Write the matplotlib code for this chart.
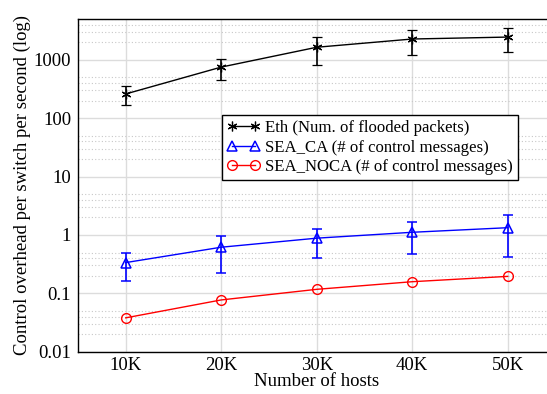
import numpy as np
import matplotlib.pyplot as plt
from matplotlib.lines import Line2D
from matplotlib.ticker import FixedLocator, NullFormatter

plt.rcParams['font.family'] = ['Liberation Serif', 'DejaVu Serif']

# Number of hosts (thousands)
hosts = [10, 20, 30, 40, 50]
host_labels = ['10K', '20K', '30K', '40K', '50K']

# Eth: number of flooded packets, with min/max
eth = [260, 750, 1640, 2270, 2450]
eth_lo = [168, 458, 830, 1230, 1380]
eth_hi = [352, 1025, 2480, 3270, 3520]

# SEA_CA: number of control messages, with min/max
sea_ca = [0.336, 0.616, 0.88, 1.11, 1.33]
sea_ca_lo = [0.16, 0.22, 0.40, 0.47, 0.425]
sea_ca_hi = [0.50, 0.97, 1.27, 1.65, 2.2]

# SEA_NOCA: number of control messages
sea_noca = [0.038, 0.077, 0.117, 0.158, 0.195]

y_ticks = [0.01, 0.1, 1, 10, 100, 1000]
y_tick_labels = ['0.01', '0.1', '1', '10', '100', '1000']

fig = plt.figure(figsize=(5.47, 3.94), dpi=100)
ax = fig.add_axes([0.1426, 0.1074, 0.8728, 0.8444])

def yerr(vals, lo, hi):
    v = np.array(vals)
    return [v - np.array(lo), np.array(hi) - v]

eth_style = dict(color='black', marker=(6, 2, 0), markersize=7,
                 markeredgewidth=0.9, linewidth=1.0)
ca_style = dict(color='blue', marker='^', markersize=7, markerfacecolor='none',
                markeredgewidth=1.1, linewidth=1.0)
noca_style = dict(color='red', marker='o', markersize=7, markerfacecolor='none',
                  markeredgewidth=1.0, linewidth=1.0)

ax.errorbar(hosts, eth, yerr=yerr(eth, eth_lo, eth_hi), elinewidth=1.2,
            capsize=3.5, capthick=1.2, zorder=3, **eth_style)
ax.errorbar(hosts, sea_ca, yerr=yerr(sea_ca, sea_ca_lo, sea_ca_hi), elinewidth=1.2,
            capsize=3.5, capthick=1.2, zorder=3, **ca_style)
ax.plot(hosts, sea_noca, zorder=3, **noca_style)

ax.set_yscale('log')
ax.set_ylim(0.01, 5000)
ax.set_xlim(5, 55)

ax.set_xticks(hosts)
ax.set_xticklabels(host_labels)
ax.yaxis.set_major_locator(FixedLocator(y_ticks))
ax.set_yticklabels(y_tick_labels)
minor = [m * d for d in [0.01, 0.1, 1, 10, 100, 1000] for m in (2, 3, 4, 5)]
ax.yaxis.set_minor_locator(FixedLocator(minor))
ax.yaxis.set_minor_formatter(NullFormatter())

ax.grid(True, which='major', axis='both', color='#dcdcdc', linewidth=1.0, zorder=0)
ax.grid(True, which='minor', axis='y', color='#c8c8c8', linewidth=0.8,
        linestyle=(0, (1, 2)), zorder=0)
ax.set_axisbelow(True)

ax.tick_params(which='both', length=0, labelsize=13.5, pad=5)
ax.tick_params(axis='x', pad=4)
ax.spines['right'].set_visible(False)
for s in ax.spines.values():
    s.set_linewidth(1.0)

ax.set_xlabel('Number of hosts', fontsize=13.5, labelpad=-1)
ax.set_ylabel('Control overhead per switch per second (log)', fontsize=13.5, labelpad=2)

handles = [Line2D([], [], **eth_style), Line2D([], [], **ca_style),
           Line2D([], [], **noca_style)]
labels = ['Eth (Num. of flooded packets)', 'SEA_CA (# of control messages)',
          'SEA_NOCA (# of control messages)']
leg = ax.legend(handles, labels, loc='upper left', bbox_to_anchor=(0.301, 0.711),
                fontsize=12.1, frameon=True, fancybox=False, edgecolor='black',
                framealpha=1, borderpad=0.3, labelspacing=0.2, handlelength=2.0,
                handletextpad=0.3, borderaxespad=0, numpoints=2)
leg.get_frame().set_linewidth(1.0)

fig.savefig('out.png', dpi=100)
